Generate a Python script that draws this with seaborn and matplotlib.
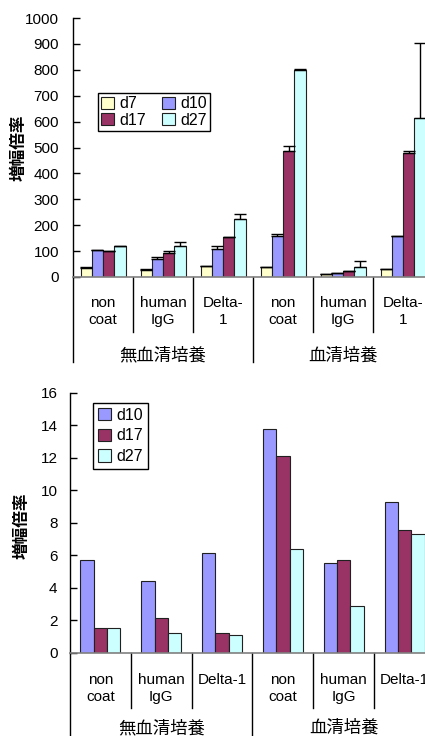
import numpy as np
import pandas as pd
import matplotlib
matplotlib.use("Agg")
import matplotlib.pyplot as plt
import seaborn as sns

plt.rcParams["font.family"] = ["Liberation Sans", "Noto Sans CJK JP", "DejaVu Sans"]

# ---- data -------------------------------------------------------------
coatings = ["non\ncoat", "human\nIgG", "Delta-\n1", "non\ncoat", "human\nIgG", "Delta-\n1"]
coatings_bottom = ["non\ncoat", "human\nIgG", "Delta-1", "non\ncoat", "human\nIgG", "Delta-1"]
culture_groups = ["無血清培養", "血清培養"]
cond_keys = ["c1", "c2", "c3", "c4", "c5", "c6"]

top_days = ["d7", "d10", "d17", "d27"]
top_d7 = [36, 28, 44, 39, 13, 31]
top_d10 = [105, 71, 110, 158, 17, 158]
top_d17 = [99, 93, 153, 485, 22, 477]
top_d27 = [118, 118, 225, 800, 39, 612]
err_d7 = [3, 4, 0, 0, 0, 0]
err_d10 = [0, 6, 9, 8, 0, 0]
err_d17 = [0, 7, 2, 19, 0, 11]
err_d27 = [2, 18, 18, 2, 23, 290]

bottom_days = ["d10", "d17", "d27"]
bot_d10 = [5.68, 4.43, 6.11, 13.76, 5.54, 9.25]
bot_d17 = [1.54, 2.11, 1.19, 12.08, 5.68, 7.57]
bot_d27 = [1.54, 1.19, 1.11, 6.38, 2.87, 7.28]

ylabel = "増幅倍率"
colors = {"d7": "#FFFFCC", "d10": "#9999FF", "d17": "#993366", "d27": "#CCFFFF"}

# ---- figure -------------------------------------------------------------
W, H, DPI = 425, 736, 100
fig = plt.figure(figsize=(W / DPI, H / DPI), dpi=DPI)

top_pos = [73 / W, (H - 277) / H, 360 / W, 259 / H]
bot_pos = [70 / W, (H - 652.7) / H, 365 / W, 260 / H]
ax1 = fig.add_axes(top_pos)
ax2 = fig.add_axes(bot_pos)


def long_frame(days, series):
    rows = []
    for d, vals in zip(days, series):
        for k, v in zip(cond_keys, vals):
            rows.append({"cond": k, "day": d, "value": v})
    return pd.DataFrame(rows)


def style_axes(ax, ymax, step, tick_pad):
    ax.set_xlim(-0.5, 5.5)
    ax.set_ylim(0, ymax)
    ax.set_yticks(np.arange(0, ymax + step / 2, step))
    ax.tick_params(axis="y", direction="in", length=5, width=1, pad=tick_pad,
                   labelsize=11, colors="black")
    ax.tick_params(axis="x", bottom=False, labelbottom=False)
    ax.set_xlabel("")
    ax.set_ylabel("")
    for s in ["top", "right"]:
        ax.spines[s].set_visible(False)
    ax.spines["left"].set_color("black")
    ax.spines["left"].set_linewidth(1)
    ax.spines["bottom"].set_color("#808080")
    ax.spines["bottom"].set_linewidth(1.2)


def draw_category_axis(ax, labels, height_px, sep_px, long_px, lab_px, grp_px):
    tr = ax.get_xaxis_transform()
    f = lambda px: -px / height_px
    for xb in [0.5, 1.5, 3.5, 4.5, 5.5]:
        ax.plot([xb, xb], [0, f(sep_px)], transform=tr, color="black", lw=1, clip_on=False)
    for xb in [-0.5, 2.5]:
        ax.plot([xb, xb], [0, f(long_px)], transform=tr, color="black", lw=1, clip_on=False)
    for i, lab in enumerate(labels):
        ax.text(i, f(lab_px), lab, transform=tr, ha="center", va="top",
                fontsize=11, linespacing=1.3)
    for j, g in enumerate(culture_groups):
        ax.text(1 + 3 * j, f(grp_px), g, transform=tr, ha="center", va="center",
                fontsize=12.5)


# ---- top chart ----------------------------------------------------------
df1 = long_frame(top_days, [top_d7, top_d10, top_d17, top_d27])
sns.barplot(data=df1, x="cond", y="value", hue="day", order=cond_keys,
            hue_order=top_days, palette=colors, width=0.75, gap=0,
            edgecolor="#202020", linewidth=0.8, errorbar=None, legend=False,
            saturation=1, ax=ax1)
for cont, errs in zip(ax1.containers, [err_d7, err_d10, err_d17, err_d27]):
    xs = [b.get_x() + b.get_width() / 2 for b in cont]
    ys = [b.get_height() for b in cont]
    ax1.errorbar(xs, ys, yerr=[np.zeros(len(errs)), errs], fmt="none",
                 ecolor="black", elinewidth=1, capsize=4, capthick=1, zorder=3)
style_axes(ax1, 1000, 100, 10)
draw_category_axis(ax1, coatings, 259, 55, 85, 19, 78)
ax1.text(-0.15, 0.5, ylabel, transform=ax1.transAxes, rotation=90,
         ha="center", va="center", fontsize=12, fontweight="bold")
hs = ax1.containers
ax1.legend([hs[0], hs[2], hs[1], hs[3]], ["d7", "d17", "d10", "d27"], ncol=2,
           loc="upper left", bbox_to_anchor=(0.069, 0.71), borderaxespad=0,
           frameon=True, fancybox=False, edgecolor="black", framealpha=1,
           fontsize=11.5, handlelength=0.8, handleheight=0.8, handletextpad=0.35,
           columnspacing=1.0, labelspacing=0.1, borderpad=0.2)
ax1.get_legend().get_frame().set_linewidth(1)

# ---- bottom chart -------------------------------------------------------
df2 = long_frame(bottom_days, [bot_d10, bot_d17, bot_d27])
sns.barplot(data=df2, x="cond", y="value", hue="day", order=cond_keys,
            hue_order=bottom_days, palette=colors, width=0.66, gap=0,
            edgecolor="#202020", linewidth=0.8, errorbar=None, legend=False,
            saturation=1, ax=ax2)
style_axes(ax2, 16, 2, 9)
draw_category_axis(ax2, coatings_bottom, 260, 55, 90, 20, 75)
ax2.text(-0.132, 0.49, ylabel, transform=ax2.transAxes, rotation=90,
         ha="center", va="center", fontsize=12, fontweight="bold")
ax2.legend(ax2.containers, bottom_days, ncol=1,
           loc="upper left", bbox_to_anchor=(0.063, 0.96), borderaxespad=0,
           frameon=True, fancybox=False, edgecolor="black", framealpha=1,
           fontsize=11.5, handlelength=0.8, handleheight=0.8, handletextpad=0.35,
           labelspacing=0.35, borderpad=0.3)
ax2.get_legend().get_frame().set_linewidth(1)

fig.savefig("out.png", dpi=DPI)
